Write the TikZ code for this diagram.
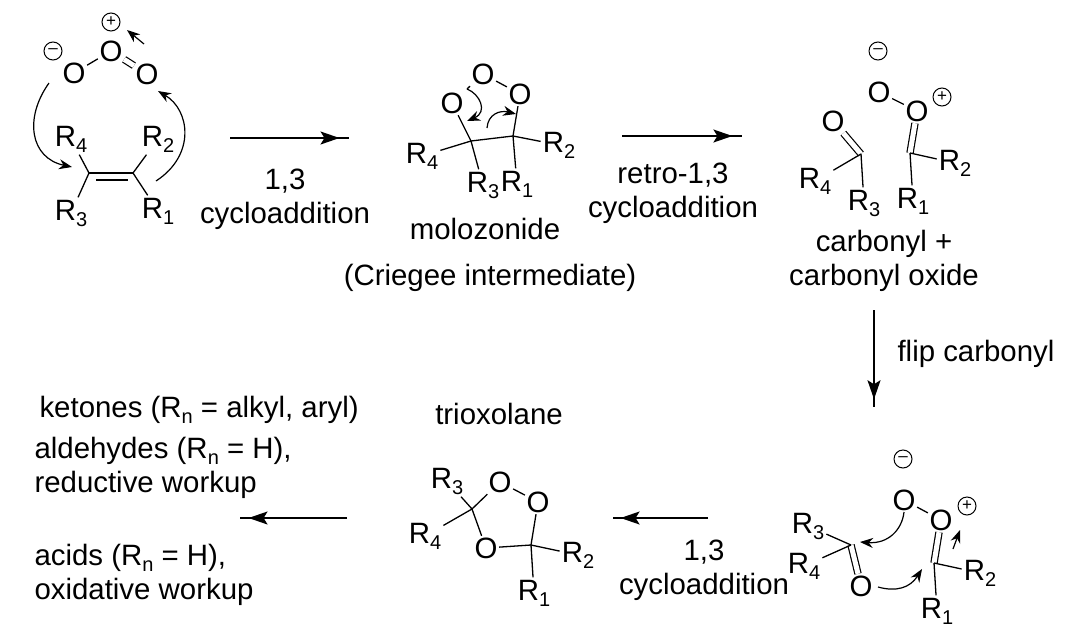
\documentclass[tikz,border=0pt]{standalone}
\usepackage{fontspec}
\setmainfont{Liberation Sans}
\usetikzlibrary{arrows.meta,decorations.markings}
\newcommand{\Rg}[1]{R\raisebox{-6pt}{\fontsize{20}{20}\selectfont #1}}
\tikzset{
  every node/.style={font=\fontsize{29.4}{34}\selectfont},
  atom/.style={inner sep=1.5pt,text height=21pt,text depth=0pt},
  group/.style={inner sep=2pt,text height=21pt,text depth=6pt},
  charge/.style={circle,draw,line width=1pt,inner sep=0pt,minimum size=18pt,font=\fontsize{17}{17}\selectfont},
  bond/.style={line width=1.3pt},
  dbond/.style={line width=1.2pt,double,double distance=5pt},
  rxn/.style={line width=1.5pt,decoration={markings,mark=at position 0.92 with {\arrow{Stealth[length=19pt,width=13pt,inset=4pt]}}},postaction={decorate}},
  push/.style={line width=1.2pt,-{Stealth[length=13pt,width=10pt]}},
  label/.style={align=center},
  note/.style={align=left,anchor=west}
}
\begin{document}
\begin{tikzpicture}[x=1pt,y=-1pt]
  \useasboundingbox (0,0) rectangle (1084,632);

  % ozone + alkene
  \node[atom] (ozl) at (74,73) {O};
  \node[atom] (ozc) at (111,51) {O};
  \node[atom] (ozr) at (147,74) {O};
  \node[charge] (ozp) at (111,22) {+};
  \node[charge] (ozm) at (53,51) {--};
  \draw[bond] (ozl) -- (ozc);
  \draw[dbond] (ozc) -- (ozr);
  \node[group] (ar4) at (71,139) {\Rg{4}};
  \node[group] (ar2) at (158,139) {\Rg{2}};
  \node[group] (ar3) at (71,213) {\Rg{3}};
  \node[group] (ar1) at (158,211) {\Rg{1}};
  \coordinate (acl) at (89,173);
  \coordinate (acr) at (133,173);
  \coordinate (aul) at (96,180);
  \coordinate (aur) at (128,180);
  \draw[bond] (acl) -- (acr);
  \draw[bond] (aul) -- (aur);
  \draw[bond] (ar4) -- (acl);
  \draw[bond] (ar3) -- (acl);
  \draw[bond] (ar2) -- (acr);
  \draw[bond] (ar1) -- (acr);
  \coordinate (pa1) at (144,44);
  \coordinate (pa2) at (127,30);
  \coordinate (pa3) at (49,83);
  \coordinate (pa4) at (72,167);
  \coordinate (pa5) at (156,181);
  \coordinate (pa6) at (158,91);
  \draw[push] (pa1) -- (pa2);
  \draw[push] (pa3) .. controls (24,118) and (30,158) .. (pa4);
  \draw[push] (pa5) .. controls (196,155) and (190,110) .. (pa6);

  % molozonide
  \node[atom] (mol) at (452,103) {O};
  \node[atom] (moc) at (483,74) {O};
  \node[atom] (mor) at (520,94) {O};
  \coordinate (mcl) at (471,141);
  \coordinate (mcr) at (513,136);
  \node[group] (mr4) at (422,156) {\Rg{4}};
  \node[group] (mr2) at (559,145) {\Rg{2}};
  \node[group] (mr3) at (483,185) {\Rg{3}};
  \node[group] (mr1) at (517,184) {\Rg{1}};
  \draw[bond] (mol) -- (mcl);
  \draw[bond] (mor) -- (mcr);
  \draw[bond] (moc) -- (mor);
  \draw[bond] (mcl) -- (mcr);
  \draw[bond] (mr4) -- (mcl);
  \draw[bond] (mr3) -- (mcl);
  \draw[bond] (mr2) -- (mcr);
  \draw[bond] (mr1) -- (mcr);
  \coordinate (pm1) at (467,89);
  \coordinate (pm2) at (467,121);
  \coordinate (pm3) at (487,128);
  \coordinate (pm4) at (516,114);
  \draw[bond] (moc) -- (pm1);
  \draw[push] (pm1) .. controls (480,94) and (488,112) .. (pm2);
  \draw[push] (pm3) .. controls (488,114) and (500,110) .. (pm4);
  \node[label] (molz) at (485,229) {molozonide};
  \node[label] (crie) at (490,278) {(Criegee intermediate)};

  % carbonyl + carbonyl oxide
  \node[atom] (co) at (833,121) {O};
  \coordinate (cc) at (861,154);
  \node[group] (cr4) at (815,181) {\Rg{4}};
  \node[group] (cr3) at (864,203) {\Rg{3}};
  \draw[dbond] (co) -- (cc);
  \draw[bond] (cr4) -- (cc);
  \draw[bond] (cr3) -- (cc);
  \node[atom] (xo) at (879,92) {O};
  \node[charge] (xm) at (878,51) {--};
  \node[atom] (xp) at (917,111) {O};
  \node[charge] (xq) at (942,97) {+};
  \coordinate (xc) at (910,153);
  \node[group] (xr2) at (955,163) {\Rg{2}};
  \node[group] (xr1) at (913,201) {\Rg{1}};
  \draw[bond] (xo) -- (xp);
  \draw[dbond] (xp) -- (xc);
  \draw[bond] (xr2) -- (xc);
  \draw[bond] (xr1) -- (xc);
  \node[label] (carb) at (884,261) {carbonyl +\\carbonyl oxide};

  % flipped carbonyl
  \node[charge] (fm) at (903,459) {--};
  \node[atom] (fo) at (904,500) {O};
  \node[atom] (fp) at (941,520) {O};
  \node[charge] (fq) at (967,506) {+};
  \coordinate (fc) at (934,563);
  \node[group] (fr2) at (980,573) {\Rg{2}};
  \node[group] (fr1) at (937,611) {\Rg{1}};
  \draw[bond] (fo) -- (fp);
  \draw[dbond] (fp) -- (fc);
  \draw[bond] (fr2) -- (fc);
  \draw[bond] (fr1) -- (fc);
  \node[atom] (go) at (861,586) {O};
  \coordinate (gc) at (851,545);
  \node[group] (gr3) at (808,526) {\Rg{3}};
  \node[group] (gr4) at (804,566) {\Rg{4}};
  \draw[dbond] (go) -- (gc);
  \draw[bond] (gr3) -- (gc);
  \draw[bond] (gr4) -- (gc);
  \coordinate (pf1) at (904,512);
  \coordinate (pf2) at (860,542);
  \coordinate (pf3) at (878,587);
  \coordinate (pf4) at (922,569);
  \coordinate (pf5) at (953,549);
  \coordinate (pf6) at (960,530);
  \draw[push] (pf1) .. controls (902,530) and (888,544) .. (pf2);
  \draw[push] (pf3) .. controls (896,592) and (910,588) .. (pf4);
  \draw[push] (pf5) -- (pf6);

  % trioxolane
  \node[label] (trio) at (499,414) {trioxolane};
  \coordinate (tcl) at (472,509);
  \coordinate (tcr) at (531,545);
  \node[atom] (tot) at (500,482) {O};
  \node[atom] (tor) at (538,502) {O};
  \node[atom] (tob) at (486,548) {O};
  \node[group] (tr3) at (447,481) {\Rg{3}};
  \node[group] (tr4) at (425,536) {\Rg{4}};
  \node[group] (tr2) at (578,555) {\Rg{2}};
  \node[group] (tr1) at (534,593) {\Rg{1}};
  \draw[bond] (tot) -- (tcl);
  \draw[bond] (tot) -- (tor);
  \draw[bond] (tor) -- (tcr);
  \draw[bond] (tob) -- (tcl);
  \draw[bond] (tob) -- (tcr);
  \draw[bond] (tr3) -- (tcl);
  \draw[bond] (tr4) -- (tcl);
  \draw[bond] (tr2) -- (tcr);
  \draw[bond] (tr1) -- (tcr);

  % reaction arrows
  \coordinate (s1) at (230,138);
  \coordinate (e1) at (349,138);
  \coordinate (s2) at (622,136);
  \coordinate (e2) at (742,136);
  \coordinate (s3) at (874,310);
  \coordinate (e3) at (874,407);
  \coordinate (s4) at (708,518);
  \coordinate (e4) at (613,518);
  \coordinate (s5) at (347,518);
  \coordinate (e5) at (240,518);
  \draw[rxn] (s1) -- (e1);
  \draw[rxn] (s2) -- (e2);
  \draw[rxn] (s3) -- (e3);
  \draw[rxn] (s4) -- (e4);
  \draw[rxn] (s5) -- (e5);
  \node[label] (l1) at (285,199) {1,3\\cycloaddition};
  \node[label] (l2) at (673,193) {retro-1,3\\cycloaddition};
  \node[label] (l3) at (976,354) {flip carbonyl};
  \node[label] (l4) at (704,570) {1,3\\cycloaddition};

  % products
  \node[note] (ket) at (36,410) {ketones (\Rg{n} = alkyl, aryl)};
  \node[note] (ald) at (31,468) {aldehydes (\Rg{n} = H),\\reductive workup};
  \node[note] (aci) at (31,575) {acids (\Rg{n} = H),\\oxidative workup};
\end{tikzpicture}
\end{document}
